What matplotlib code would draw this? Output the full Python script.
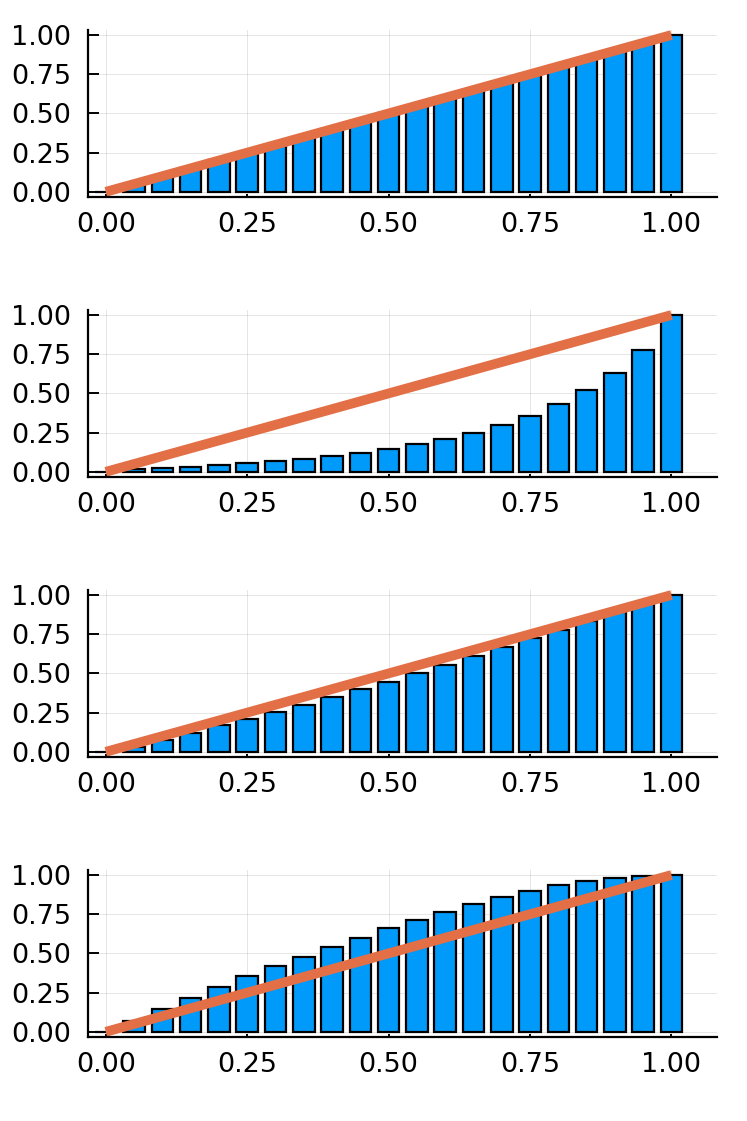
import matplotlib
matplotlib.use("Agg")
import matplotlib.pyplot as plt

# bar positions and heights
x_vals = [0.00, 0.05, 0.10, 0.15, 0.20, 0.25, 0.30, 0.35, 0.40, 0.45, 0.50,
          0.55, 0.60, 0.65, 0.70, 0.75, 0.80, 0.85, 0.90, 0.95, 1.00]

linear_vals = [0.00, 0.05, 0.10, 0.15, 0.20, 0.25, 0.30, 0.35, 0.40, 0.45, 0.50,
               0.55, 0.60, 0.65, 0.70, 0.75, 0.80, 0.85, 0.90, 0.95, 1.00]
steep_vals = [0.00, 0.017, 0.023, 0.030, 0.044, 0.057, 0.070, 0.080, 0.100, 0.120, 0.143,
              0.175, 0.210, 0.250, 0.300, 0.358, 0.430, 0.520, 0.630, 0.780, 1.00]
mild_vals = [0.00, 0.030, 0.075, 0.120, 0.170, 0.212, 0.255, 0.300, 0.348, 0.398, 0.445,
             0.500, 0.556, 0.611, 0.670, 0.727, 0.780, 0.835, 0.890, 0.947, 1.00]
ease_out_vals = [0.00, 0.070, 0.143, 0.215, 0.284, 0.354, 0.420, 0.480, 0.540, 0.600, 0.660,
                 0.716, 0.766, 0.817, 0.860, 0.900, 0.935, 0.960, 0.980, 0.996, 1.00]

panels = [linear_vals, steep_vals, mild_vals, ease_out_vals]

# reference diagonal
line_x = [0.0, 1.0]
line_y = [0.0, 1.0]

ticks = [0.0, 0.25, 0.5, 0.75, 1.0]
tick_labels = ["0.00", "0.25", "0.50", "0.75", "1.00"]

bar_color = "#009AFA"
line_color = "#E26F46"

W, H = 747, 1121
fig = plt.figure(figsize=(W / 100, H / 100), dpi=100)
plt.rcParams['font.family'] = ['DejaVu Sans']

left = 88.3 / W
width = (717.3 - 88.3) / W
height = 167.3 / H

for i, vals in enumerate(panels):
    top_px = 30 + 280 * i
    bottom = 1 - (top_px + 167.3) / H
    ax = fig.add_axes([left, bottom, width, height])

    ax.bar(x_vals, vals, width=0.038, color=bar_color, edgecolor="black",
           linewidth=1.6, zorder=2)
    ax.plot(line_x, line_y, color=line_color, linewidth=7,
            solid_capstyle="butt", zorder=3)

    ax.set_xlim(-0.031, 1.081)
    ax.set_ylim(-0.035, 1.032)
    ax.set_xticks(ticks)
    ax.set_xticklabels(tick_labels)
    ax.set_yticks(ticks)
    ax.set_yticklabels(tick_labels)

    ax.grid(True, color="black", alpha=0.1, linewidth=0.7, zorder=0)
    ax.set_axisbelow(True)

    for side in ["top", "right"]:
        ax.spines[side].set_visible(False)
    for side in ["left", "bottom"]:
        ax.spines[side].set_linewidth(1.6)
        ax.spines[side].set_zorder(4)

    ax.tick_params(axis="y", direction="in", length=8, width=1.4,
                   labelsize=19.5, pad=12.5)
    ax.tick_params(axis="x", direction="in", length=2.5, width=1.4,
                   labelsize=19.5, pad=10.5)

fig.savefig("out.png", dpi=100)
